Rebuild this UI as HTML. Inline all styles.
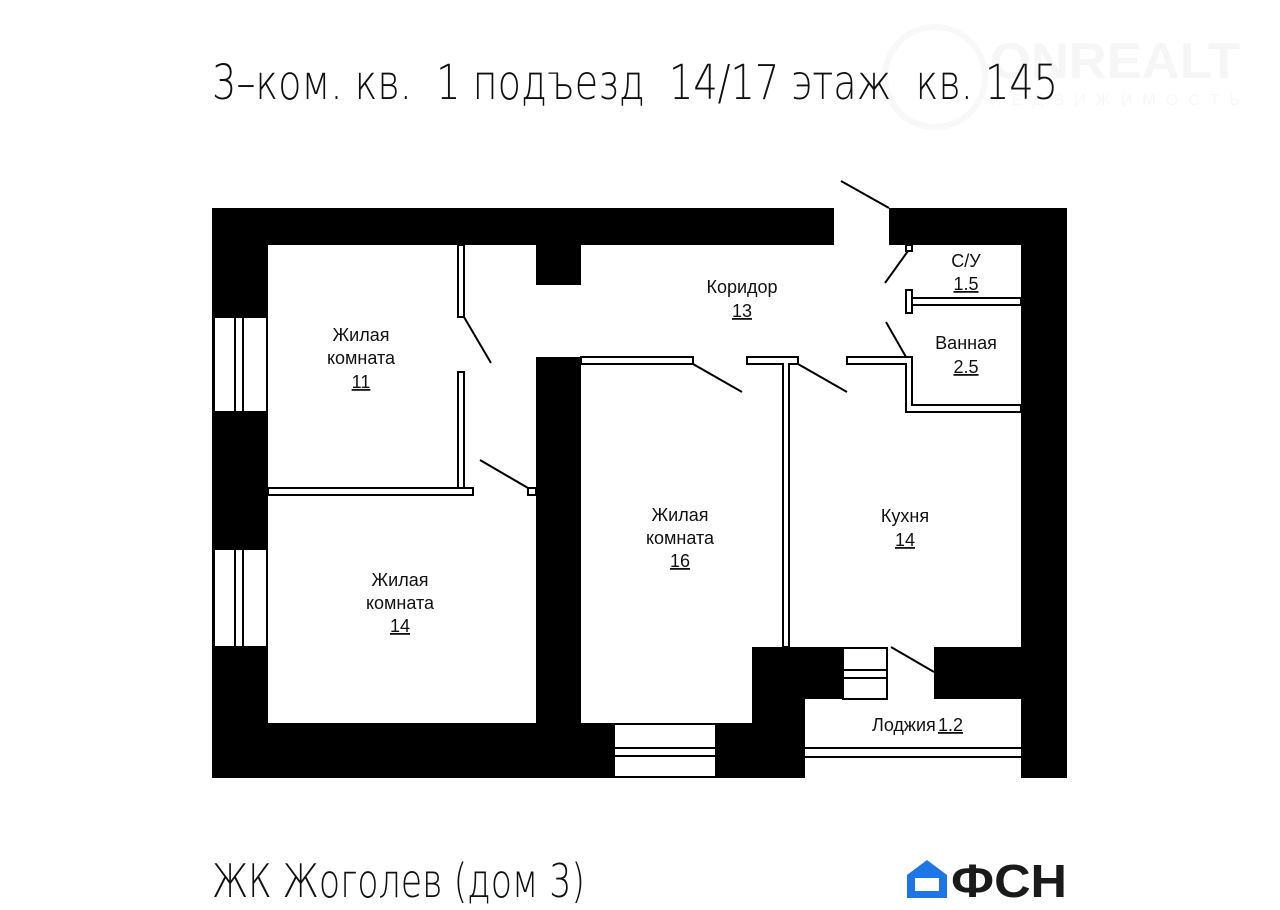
<!DOCTYPE html>
<html><head><meta charset="utf-8"><style>
html,body{margin:0;padding:0;background:#fff;}
svg{display:block;}
text{font-family:"Liberation Sans","DejaVu Sans",sans-serif;fill:#111;}
.l{font-size:18px;text-anchor:middle;}
.t{font-family:"DejaVu Sans","Liberation Sans",sans-serif;font-weight:200;}
</style></head><body>
<svg width="1280" height="910" viewBox="0 0 1280 910" xmlns="http://www.w3.org/2000/svg">
<rect width="1280" height="910" fill="#fff"/>
<text x="990" y="78" font-size="50" font-weight="bold" style="fill:#f6f6f6" textLength="250" lengthAdjust="spacingAndGlyphs">ONREALT</text>
<text x="990" y="105" font-size="16" style="fill:#f7f7f7" textLength="250" lengthAdjust="spacing">НЕДВИЖИМОСТЬ</text>
<circle cx="935" cy="77" r="50" fill="none" stroke="#f8f8f8" stroke-width="6"/>
<text class="t" x="212" y="99" font-size="48" textLength="846" lengthAdjust="spacingAndGlyphs" xml:space="preserve">3–ком. кв.  1 подъезд  14/17 этаж  кв. 145</text>
<text class="t" x="212" y="897" font-size="46" textLength="373" lengthAdjust="spacingAndGlyphs">ЖК Жоголев (дом 3)</text>
<path d="M907 898 V875 L927 860 L947 875 V898 Z" fill="#1d76e8"/>
<rect x="915" y="878" width="24" height="13" fill="#fff"/>
<text x="951" y="897" font-size="46" font-weight="bold" style="font-family:'Liberation Sans',sans-serif;fill:#1a1a1a" textLength="116" lengthAdjust="spacingAndGlyphs">ФСН</text>

<g fill="#000">
<rect x="212" y="208" width="622" height="37"/>
<rect x="889" y="208" width="178" height="37"/>
<rect x="212" y="208" width="56" height="570"/>
<rect x="1021" y="208" width="46" height="570"/>
<rect x="212" y="723" width="593" height="55"/>
<rect x="536" y="245" width="45" height="40"/>
<rect x="536" y="357" width="45" height="366"/>
<rect x="752" y="647" width="90" height="52"/>
<rect x="752" y="647" width="53" height="131"/>
<rect x="934" y="647" width="87" height="52"/>
</g>
<g fill="#fff" stroke="#000" stroke-width="2">
<rect x="214" y="317" width="53" height="95"/>
<rect x="214" y="549" width="53" height="98"/>
<rect x="614" y="724" width="102" height="53"/>
<rect x="843" y="648" width="44" height="51"/>
</g>
<g stroke="#000" stroke-width="2" fill="none">
<line x1="235" y1="317" x2="235" y2="412"/><line x1="243" y1="317" x2="243" y2="412"/>
<line x1="235" y1="549" x2="235" y2="647"/><line x1="243" y1="549" x2="243" y2="647"/>
<line x1="614" y1="748" x2="716" y2="748"/><line x1="614" y1="756" x2="716" y2="756"/>
<line x1="843" y1="670" x2="887" y2="670"/><line x1="843" y1="678" x2="887" y2="678"/>
<line x1="805" y1="748" x2="1021" y2="748"/><line x1="805" y1="757" x2="1021" y2="757"/>
</g>
<g fill="#fff" stroke="#000" stroke-width="2">
<rect x="458" y="245" width="6" height="72"/>
<rect x="458" y="372" width="6" height="121"/>
<rect x="268" y="488" width="205" height="7"/>
<rect x="528" y="488" width="8" height="7"/>
<rect x="581" y="357" width="112" height="7"/>
<rect x="783" y="357" width="6" height="290"/>
<rect x="747" y="357" width="51" height="7"/>
<path d="M847 357 H912 V405 H1021 V412 H906 V364 H847 Z"/>
<rect x="906" y="298" width="115" height="7"/>
<rect x="906" y="290" width="6" height="23"/>
<rect x="906" y="245" width="6" height="6"/>
</g>
<rect x="784" y="358" width="4" height="7" fill="#fff"/>
<rect x="907" y="299" width="4" height="5" fill="#fff"/>
<g stroke="#000" stroke-width="2">
<line x1="464" y1="317" x2="491" y2="363"/>
<line x1="480" y1="460" x2="528" y2="488"/>
<line x1="693" y1="364" x2="742" y2="392"/>
<line x1="798" y1="364" x2="847" y2="392"/>
<line x1="886" y1="322" x2="906" y2="357"/>
<line x1="908" y1="251" x2="885" y2="283"/>
<line x1="841" y1="181" x2="889" y2="208"/>
<line x1="891" y1="647" x2="934" y2="672"/>
</g>
<g>
<text class="l" x="361" y="341">Жилая</text>
<text class="l" x="361" y="364">комната</text>
<text class="l" x="361" y="388" text-decoration="underline">11</text>
<text class="l" x="400" y="586">Жилая</text>
<text class="l" x="400" y="609">комната</text>
<text class="l" x="400" y="632" text-decoration="underline">14</text>
<text class="l" x="680" y="521">Жилая</text>
<text class="l" x="680" y="544">комната</text>
<text class="l" x="680" y="567" text-decoration="underline">16</text>
<text class="l" x="905" y="522">Кухня</text>
<text class="l" x="905" y="546" text-decoration="underline">14</text>
<text class="l" x="742" y="293">Коридор</text>
<text class="l" x="742" y="317" text-decoration="underline">13</text>
<text class="l" x="966" y="267">С/У</text>
<text class="l" x="966" y="290" text-decoration="underline">1.5</text>
<text class="l" x="966" y="349">Ванная</text>
<text class="l" x="966" y="373" text-decoration="underline">2.5</text>
<text x="872" y="731" font-size="18">Лоджия</text>
<text x="938" y="731" font-size="18" text-decoration="underline">1.2</text>
</g>
</svg>
</body></html>
